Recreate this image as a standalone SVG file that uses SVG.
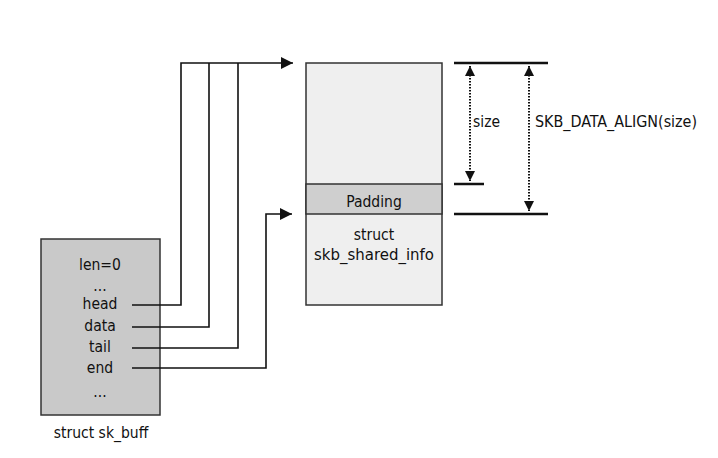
<svg xmlns="http://www.w3.org/2000/svg" width="718" height="458" viewBox="0 0 718 458">
<style>
text{font-family:"Liberation Sans Narrow","DejaVu Sans Condensed","Liberation Sans",sans-serif;font-size:15.5px;fill:#111;text-anchor:middle}
.box{stroke:#333;stroke-width:1.5}
.conn{fill:none;stroke:#111;stroke-width:1.6}
.bar{stroke:#111;stroke-width:2.5}
.dot{stroke:#111;stroke-width:2;stroke-dasharray:1.5,1.5}
</style>
<defs>
<marker id="ah" viewBox="0 0 10 10" refX="10" refY="5" markerWidth="14" markerHeight="12" markerUnits="userSpaceOnUse" orient="auto"><path d="M0,0 L10,5 L0,10 z" fill="#111"/></marker>
<marker id="dh" viewBox="0 0 10 10" refX="10" refY="5" markerWidth="13" markerHeight="10" markerUnits="userSpaceOnUse" orient="auto-start-reverse"><path d="M0,0 L10,5 L0,10 z" fill="#111"/></marker>
</defs>
<rect width="718" height="458" fill="#fff"/>
<g id="sk_buff">
<rect class="box" x="41" y="239" width="119" height="176" fill="#c9c9c9"/>
<text x="100" y="270">len=0</text>
<text x="100" y="291">...</text>
<text x="100" y="309">head</text>
<text x="100" y="331">data</text>
<text x="100" y="352">tail</text>
<text x="100" y="373">end</text>
<text x="100" y="397">...</text>
<text x="101" y="438">struct sk_buff</text>
</g>
<g id="buffer">
<rect class="box" x="306" y="63" width="136" height="242" fill="#efefef"/>
<rect class="box" x="306" y="184" width="136" height="30" fill="#cfcfcf"/>
<text x="374" y="207">Padding</text>
<text x="374" y="240">struct</text>
<text x="374" y="260" textLength="120" lengthAdjust="spacingAndGlyphs">skb_shared_info</text>
</g>
<g id="connectors">
<path class="conn" d="M132,305 H181 V63 H293" marker-end="url(#ah)"/>
<path class="conn" d="M132,327 H209 V63"/>
<path class="conn" d="M132,348 H238 V63"/>
<path class="conn" d="M132,368 H266 V214 H292" marker-end="url(#ah)"/>
</g>
<g id="dimensions">
<line class="bar" x1="454" y1="63" x2="548" y2="63"/>
<line class="bar" x1="454" y1="184" x2="484" y2="184"/>
<line class="bar" x1="454" y1="214" x2="548" y2="214"/>
<line class="dot" x1="470" y1="66" x2="470" y2="181" marker-start="url(#dh)" marker-end="url(#dh)"/>
<line class="dot" x1="529" y1="66" x2="529" y2="211" marker-start="url(#dh)" marker-end="url(#dh)"/>
<text x="473" y="127" style="text-anchor:start">size</text>
<text x="535" y="127" style="text-anchor:start" textLength="162" lengthAdjust="spacingAndGlyphs">SKB_DATA_ALIGN(size)</text>
</g>
</svg>
